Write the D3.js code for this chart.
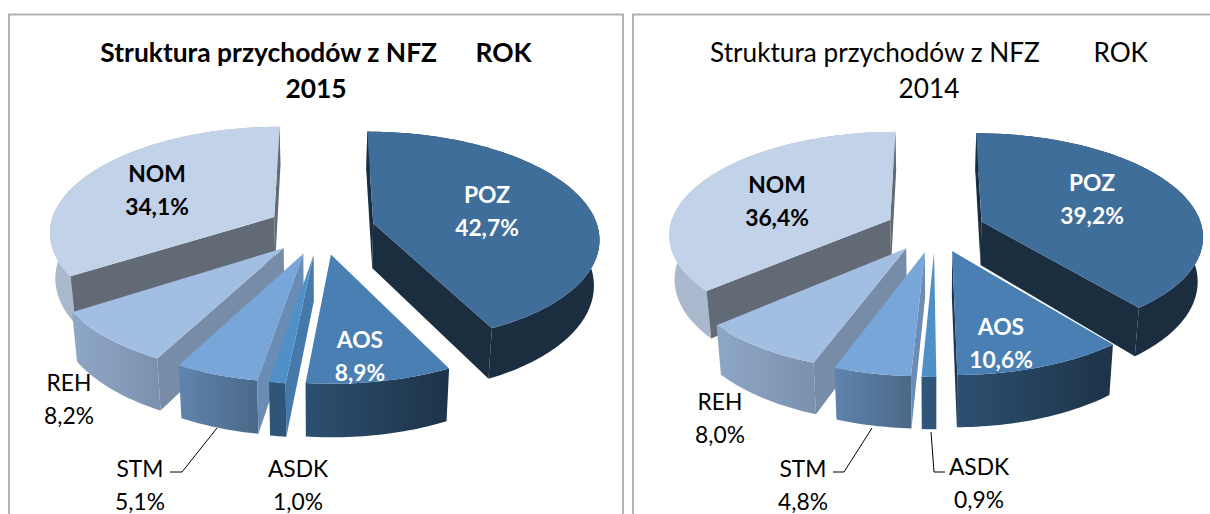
<!DOCTYPE html>
<html><head><meta charset="utf-8">
<script src="https://d3js.org/d3.v7.min.js"></script>
<style>html,body{margin:0;padding:0;background:#fff}svg{display:block}text{font-family:Lato,"Open Sans",sans-serif;white-space:pre}</style>
</head><body><svg id="c" width="1210" height="514"></svg>
<script>
const categories = ["POZ","AOS","ASDK","STM","REH","NOM"];
const values2015 = [42.7,8.9,1.0,5.1,8.2,34.1];
const values2014 = [39.2,10.6,0.9,4.8,8.0,36.4];
const valueLabels2015 = ["42,7%","8,9%","1,0%","5,1%","8,2%","34,1%"];
const valueLabels2014 = ["39,2%","10,6%","0,9%","4,8%","8,0%","36,4%"];
const topColors   = ["#406e9a","#4a7fb3","#5090c8","#79a6d8","#a2bee2","#c1d2e9"];
const wallLeft    = ["#1b2e40","#2d4f70","#2f5678","#5f83ab","#8ea6c6","#aab9ce"];
const wallRight   = ["#1b2e40","#1d3449","#2f5678","#4a6988","#7a90ad","#a3b3c8"];
const sideColors  = ["#1b2e40","#1e3550","#4479a9","#6a8db5","#778ca6","#626a75"];
const labelBold   = [true,true,false,false,false,true];
const labelColor  = ["#fff","#fff","#000","#000","#000","#000"];
const drawOrder   = [5,0,4,3,2,1];

const charts = [
 {title:["Struktura przychodów z NFZ      ROK","2015"],bold:true,titleSize:26.4,titleX:316,values:values2015,labels:valueLabels2015,
  cx:321,cy:229,R:225,r:105,explode:.24,depth:45,
  labelPos:[[487,203],[360,348],[298,477],[140,477],[69,391],[157,182]],
  leaders:[[[170,472],[182,472],[217,428]]]},
 {title:["Struktura przychodów z NFZ        ROK","2014"],bold:false,titleSize:26.2,titleX:929,values:values2014,labels:valueLabels2014,
  cx:935,cy:229,R:221,r:101.5,explode:.225,depth:44,
  labelPos:[[1092,191],[1001,335],[979,475],[803,477],[720,410],[777,193]],
  leaders:[[[833,472],[844,472],[872,428]],[[931,432],[934,472],[945,472]]]}
];
const K=.13, BOTTOM_X=.98, lineGap=33;
const svg=d3.select("#c"), defs=svg.append("defs");
const line=d3.line();

// frames
svg.append("path").attr("d","M9,514V14.5H623V514").attr("fill","none").attr("stroke","#b2b2b2").attr("stroke-width",2);
svg.append("path").attr("d","M633,514V14.5H1212").attr("fill","none").attr("stroke","#b2b2b2").attr("stroke-width",2);

charts.forEach((ch,ci)=>{
  const pie=d3.pie().sort(null).value(d=>d);
  const arcs=pie(ch.values);
  const proj=(x,z,bottom)=>{
    const p=1/(1-K*z);
    const sx=ch.R*x*p*(bottom?BOTTOM_X:1);
    return [ch.cx+sx, ch.cy+ch.r*z*p+(bottom?ch.depth*p:0)];
  };
  drawOrder.forEach(i=>{
    const a=arcs[i], mid=(a.startAngle+a.endAngle)/2;
    const ox=Math.sin(mid)*ch.explode, oz=-Math.cos(mid)*ch.explode;
    const n=Math.max(3,Math.ceil((a.endAngle-a.startAngle)/0.02));
    const angles=d3.range(n+1).map(k=>a.startAngle+(a.endAngle-a.startAngle)*k/n);
    const world=angles.map(t=>[ox+Math.sin(t),oz-Math.cos(t)]);
    const topArc=world.map(w=>proj(w[0],w[1],false));
    const botArc=world.map(w=>proj(w[0],w[1],true));
    const apexT=proj(ox,oz,false), apexB=proj(ox,oz,true);
    const g=svg.append("g");
    const id=`w${ci}${i}`;
    const xs=botArc.map(q=>q[0]);
    const gr=defs.append("linearGradient").attr("id",id).attr("gradientUnits","userSpaceOnUse")
      .attr("x1",d3.min(xs)).attr("x2",d3.max(xs)).attr("y1",0).attr("y2",0);
    gr.append("stop").attr("offset",0).attr("stop-color",wallLeft[i]);
    gr.append("stop").attr("offset",1).attr("stop-color",wallRight[i]);
    // outer wall
    g.append("path").attr("d",line(topArc.concat(botArc.slice().reverse()))+"Z").attr("fill",`url(#${id})`);
    // radial walls (only when facing the viewer)
    const centroid=[d3.mean(topArc,q=>q[0]),d3.mean(topArc,q=>q[1])];
    const cross=(p,q,s)=>(q[0]-p[0])*(s[1]-p[1])-(q[1]-p[1])*(s[0]-p[0]);
    [[topArc[0],botArc[0]],[topArc[n],botArc[n]]].forEach(([t,b])=>{
      const mb=[(apexB[0]+b[0])/2,(apexB[1]+b[1])/2];
      if(cross(apexT,t,centroid)*cross(apexT,t,mb)<0){
        g.append("path").attr("d",line([apexT,t,b,apexB])+"Z").attr("fill",sideColors[i]);
      }
    });
    // top face
    g.append("path").attr("d",line([apexT].concat(topArc))+"Z").attr("fill",topColors[i]);
  });
  // title
  ch.title.forEach((t,k)=>svg.append("text").attr("x",ch.titleX).attr("y",62+k*36)
    .attr("text-anchor","middle").attr("font-size",ch.titleSize).attr("font-weight",ch.bold?700:400).attr("fill","#000").text(t));
  // labels
  categories.forEach((c,i)=>{
    const [lx,ly]=ch.labelPos[i];
    [c,ch.labels[i]].forEach((t,k)=>svg.append("text").attr("x",lx).attr("y",ly+k*lineGap)
      .attr("text-anchor","middle").attr("font-size",22.8).attr("font-weight",labelBold[i]?700:400)
      .attr("fill",labelColor[i]).text(t));
  });
  ch.leaders.forEach(l=>svg.append("path").attr("d",line(l)).attr("fill","none").attr("stroke","#000").attr("stroke-width",1));
});
</script></body></html>
